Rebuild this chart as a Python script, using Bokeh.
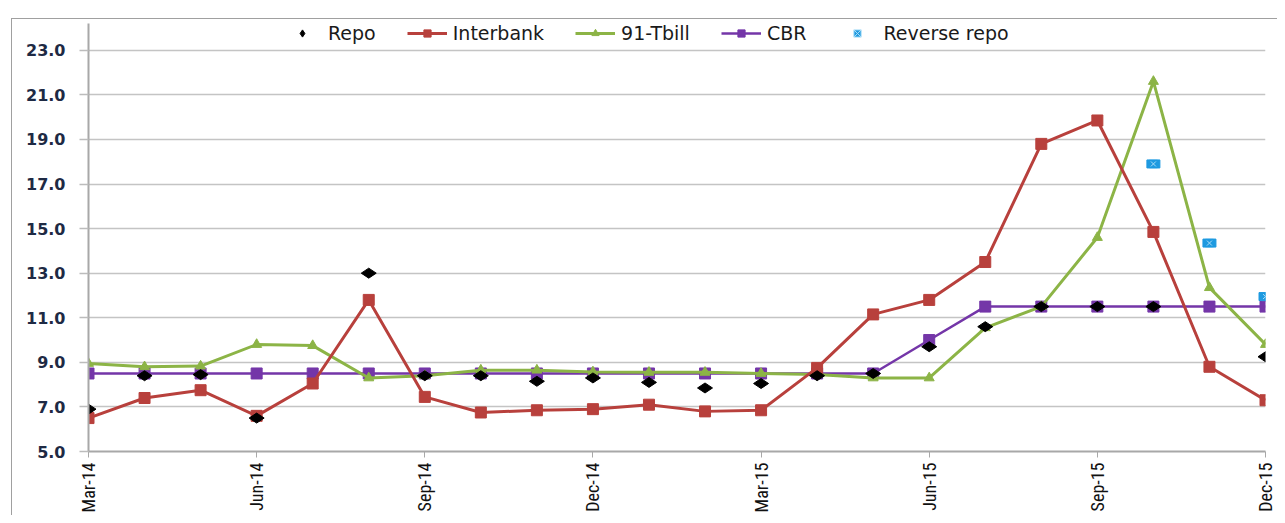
import math
from bokeh.plotting import figure
from bokeh.models import FixedTicker, Range1d, Legend, LegendItem, ColumnDataSource
from bokeh.layouts import column
from bokeh.embed import file_html
from bokeh.resources import INLINE

nan = float("nan")

months = ["Mar-14", "Apr-14", "May-14", "Jun-14", "Jul-14", "Aug-14", "Sep-14",
          "Oct-14", "Nov-14", "Dec-14", "Jan-15", "Feb-15", "Mar-15", "Apr-15",
          "May-15", "Jun-15", "Jul-15", "Aug-15", "Sep-15", "Oct-15", "Nov-15", "Dec-15"]

repo = [6.9, 8.4, 8.45, 6.5, nan, 13.0, 8.4, 8.4, 8.15, 8.3, 8.1, 7.85, 8.05,
        8.4, 8.5, 9.7, 10.6, 11.5, 11.5, 11.5, nan, 9.25]
interbank = [6.5, 7.4, 7.75, 6.6, 8.05, 11.8, 7.45, 6.75, 6.85, 6.9, 7.1, 6.8, 6.85,
             8.75, 11.15, 11.8, 13.5, 18.8, 19.85, 14.85, 8.8, 7.3]
tbill = [8.95, 8.8, 8.83, 9.8, 9.75, 8.3, 8.4, 8.65, 8.65, 8.57, 8.55, 8.55, 8.5,
         8.45, 8.3, 8.3, 10.55, 11.5, 14.6, 21.6, 12.35, 9.8]
cbr = [8.5, 8.5, 8.5, 8.5, 8.5, 8.5, 8.5, 8.5, 8.5, 8.5, 8.5, 8.5, 8.5,
       8.5, 8.5, 10.0, 11.5, 11.5, 11.5, 11.5, 11.5, 11.5]
reverse_repo = [nan] * 19 + [17.9, 14.35, 11.95]

y_ticks = [5, 7, 9, 11, 13, 15, 17, 19, 21, 23]

x = list(range(len(months)))
src = ColumnDataSource(dict(x=x, repo=repo, interbank=interbank, tbill=tbill,
                            cbr=cbr, rr=reverse_repo))
src_rr = ColumnDataSource(dict(x=x[19:], rr=reverse_repo[19:]))

p = figure(width=1265, height=496, output_backend="svg", toolbar_location=None,
           x_range=Range1d(0, len(months) - 1), y_range=Range1d(5, 24.2),
           min_border_left=76, min_border_right=12, min_border_top=4, min_border_bottom=60)
p.outline_line_color = None
p.background_fill_color = "white"
p.border_fill_color = "white"

RED = "#b8403c"
GREEN = "#8cb446"
PURPLE = "#7436a8"
BLUE = "#1e9ae0"

r_cbr_l = p.line("x", "cbr", source=src, line_color=PURPLE, line_width=2.5)
r_cbr_m = p.scatter("x", "cbr", source=src, marker="square", size=11,
                    fill_color=PURPLE, line_color=PURPLE)
r_tb_l = p.line("x", "tbill", source=src, line_color=GREEN, line_width=3)
r_tb_m = p.scatter("x", "tbill", source=src, marker="triangle", size=10,
                   fill_color=GREEN, line_color=GREEN)
r_ib_l = p.line("x", "interbank", source=src, line_color=RED, line_width=3)
r_ib_m = p.scatter("x", "interbank", source=src, marker="square", size=11,
                   fill_color=RED, line_color=RED)
r_repo = p.scatter("x", "repo", source=src, marker="diamond", size=15, angle=math.pi / 2,
                   fill_color="black", line_color="black")
r_rr_sq = p.scatter("x", "rr", source=src_rr, marker="square_x", size=8, fill_color=BLUE,
                    line_color="#a8dcf7", line_width=1)
r_rr = p.rect("x", "rr", source=src_rr, width=13, height=8, width_units="screen",
              height_units="screen", fill_color=BLUE, line_color=BLUE)
r_rrx = p.scatter("x", "rr", source=src_rr, marker="x", size=7, line_color="#a8dcf7",
                  line_width=1)

legend = Legend(items=[
    LegendItem(label="Repo", renderers=[r_repo]),
    LegendItem(label="Interbank", renderers=[r_ib_l, r_ib_m]),
    LegendItem(label="91-Tbill", renderers=[r_tb_l, r_tb_m]),
    LegendItem(label="CBR", renderers=[r_cbr_l, r_cbr_m]),
    LegendItem(label="Reverse repo", renderers=[r_rr_sq]),
], location=(194, 407), orientation="horizontal")
legend.background_fill_alpha = 0
legend.border_line_color = None
legend.label_text_font = "DejaVu Sans"
legend.label_text_font_size = "19px"
legend.label_text_color = "#1a1a1a"
legend.glyph_width = 40
legend.glyph_height = 18
legend.label_standoff = 6
legend.spacing = 31
legend.padding = 0
legend.margin = 0
p.add_layout(legend)

# axes
p.xaxis.ticker = FixedTicker(ticks=x[::3])
p.xaxis.major_label_overrides = {i: months[i] for i in x[::3]}
p.xaxis.major_label_orientation = math.pi / 2
p.xaxis.major_label_text_font = "Liberation Sans Narrow, Roboto Condensed, sans-serif"
p.xaxis.major_label_text_font_size = "18px"
p.xaxis.major_label_text_color = "#111111"
p.xaxis.axis_line_color = "#a8a8a8"
p.xaxis.axis_line_width = 2
p.xaxis.major_tick_line_color = "#a8a8a8"
p.xaxis.major_tick_out = 6
p.xaxis.major_tick_in = 0
p.xaxis.minor_tick_line_color = None

p.yaxis.ticker = FixedTicker(ticks=y_ticks)
p.yaxis.major_label_overrides = {v: f"{v:.1f}" for v in y_ticks}
p.yaxis.major_label_text_font = "DejaVu Sans"
p.yaxis.major_label_text_font_style = "bold"
p.yaxis.major_label_text_font_size = "16px"
p.yaxis.major_label_text_color = "#1e2a44"
p.yaxis.axis_line_color = "#a8a8a8"
p.yaxis.axis_line_width = 2
p.yaxis.major_tick_line_color = "#bcbcbc"
p.yaxis.major_tick_line_width = 1.5
p.yaxis.major_tick_out = 9
p.yaxis.major_tick_in = 0
p.yaxis.minor_tick_line_color = None
p.yaxis.major_label_standoff = 14

p.xgrid.visible = False
p.ygrid.grid_line_color = "#c4c4c4"
p.ygrid.grid_line_width = 1.5

layout = column(p, margin=(18, 0, 0, 11),
                styles={"border-top": "1px solid #a0a0a0", "border-left": "1px solid #a0a0a0"})

open("out.html", "w").write(file_html(layout, INLINE))
